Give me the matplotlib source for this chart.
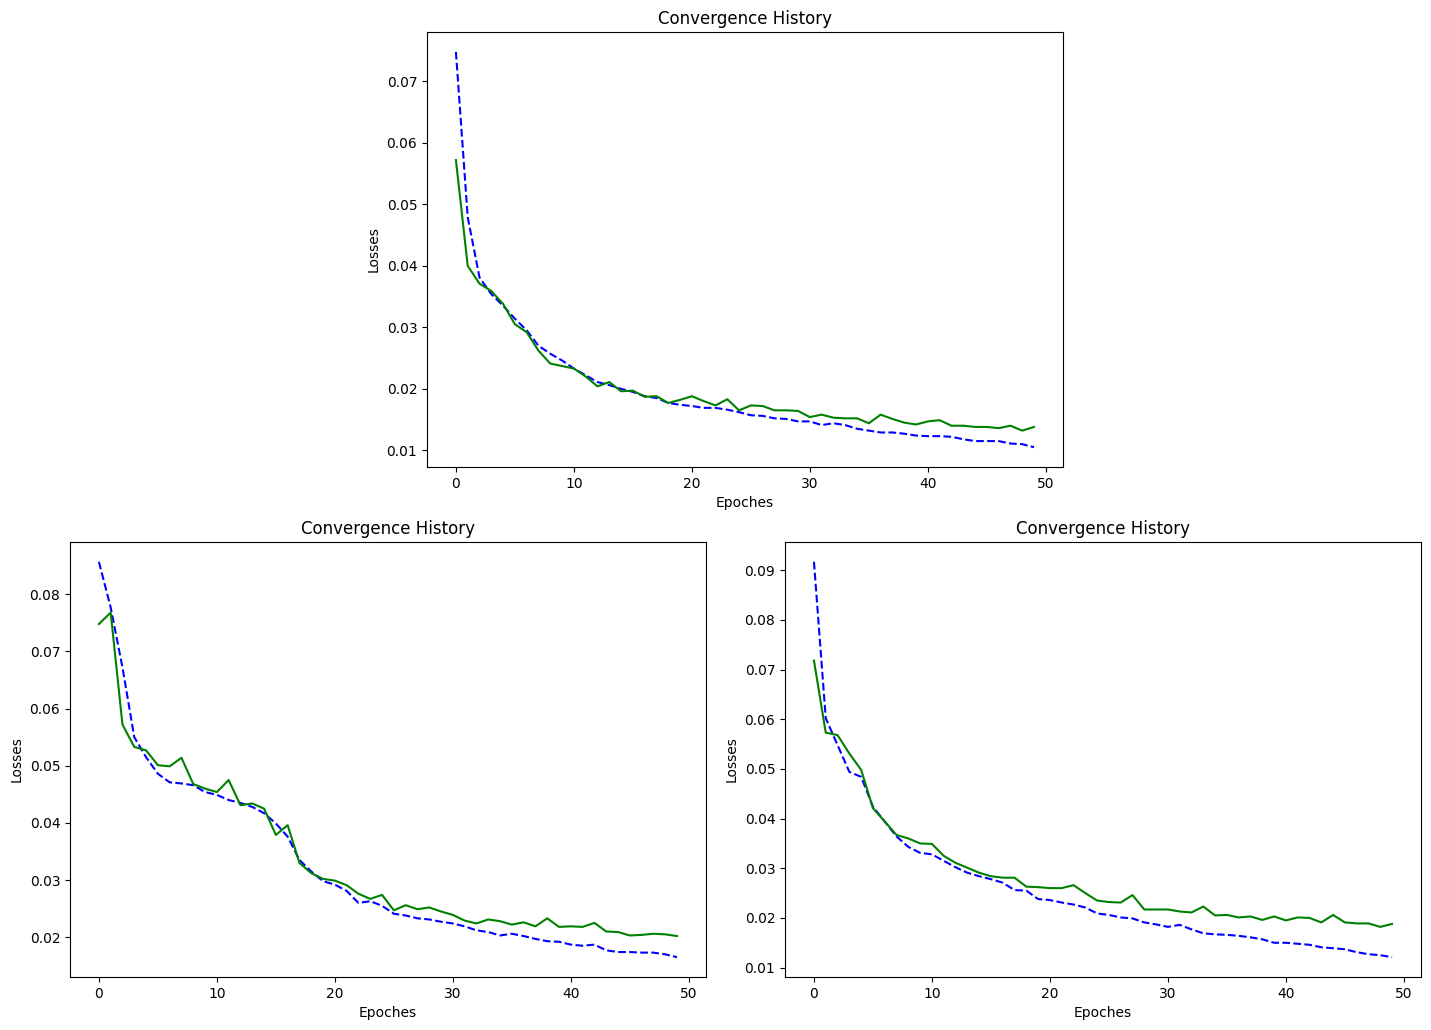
import matplotlib
matplotlib.use("Agg")
import matplotlib.pyplot as plt
import numpy as np

epochs = np.arange(50)

# top plot
train_top = [0.0748, 0.0479, 0.0381, 0.0354, 0.0335, 0.0314, 0.0295, 0.0270, 0.0257, 0.0246,
             0.0233, 0.0222, 0.0211, 0.0206, 0.0200, 0.0195, 0.0188, 0.0185, 0.0177, 0.0174,
             0.0172, 0.0169, 0.0169, 0.0166, 0.0162, 0.0157, 0.0156, 0.0152, 0.0151, 0.0147,
             0.0147, 0.0141, 0.0144, 0.0141, 0.0135, 0.0132, 0.0129, 0.0129, 0.0127, 0.0124,
             0.0123, 0.0123, 0.0122, 0.0118, 0.0115, 0.0115, 0.0115, 0.0111, 0.0110, 0.0105]
val_top = [0.0572, 0.0400, 0.0371, 0.0359, 0.0338, 0.0305, 0.0292, 0.0262, 0.0241, 0.0237,
           0.0233, 0.0220, 0.0204, 0.0211, 0.0196, 0.0197, 0.0187, 0.0188, 0.0177, 0.0182,
           0.0188, 0.0180, 0.0173, 0.0183, 0.0165, 0.0173, 0.0172, 0.0165, 0.0165, 0.0164,
           0.0154, 0.0158, 0.0153, 0.0152, 0.0152, 0.0144, 0.0158, 0.0151, 0.0145, 0.0142,
           0.0147, 0.0149, 0.0140, 0.0140, 0.0138, 0.0138, 0.0136, 0.0140, 0.0132, 0.0138]

# bottom left plot
train_left = [0.0857, 0.0777, 0.0672, 0.0550, 0.0515, 0.0486, 0.0471, 0.0469, 0.0466, 0.0454,
              0.0449, 0.0440, 0.0435, 0.0428, 0.0417, 0.0399, 0.0376, 0.0335, 0.0315, 0.0298,
              0.0292, 0.0281, 0.0260, 0.0263, 0.0255, 0.0241, 0.0238, 0.0233, 0.0231, 0.0227,
              0.0224, 0.0219, 0.0212, 0.0209, 0.0203, 0.0206, 0.0202, 0.0197, 0.0193, 0.0192,
              0.0187, 0.0185, 0.0187, 0.0177, 0.0174, 0.0174, 0.0173, 0.0173, 0.0170, 0.0165]
val_left = [0.0748, 0.0768, 0.0572, 0.0533, 0.0527, 0.0501, 0.0499, 0.0514, 0.0468, 0.0460,
            0.0454, 0.0475, 0.0431, 0.0434, 0.0425, 0.0379, 0.0396, 0.0330, 0.0312, 0.0302,
            0.0299, 0.0291, 0.0276, 0.0267, 0.0274, 0.0247, 0.0256, 0.0249, 0.0252, 0.0245,
            0.0239, 0.0229, 0.0224, 0.0231, 0.0228, 0.0222, 0.0226, 0.0219, 0.0233, 0.0218,
            0.0219, 0.0218, 0.0225, 0.0210, 0.0209, 0.0203, 0.0204, 0.0206, 0.0205, 0.0202]

# bottom right plot
train_right = [0.0917, 0.0602, 0.0548, 0.0494, 0.0484, 0.0424, 0.0394, 0.0364, 0.0343, 0.0331,
               0.0328, 0.0315, 0.0302, 0.0291, 0.0284, 0.0278, 0.0271, 0.0256, 0.0255, 0.0238,
               0.0236, 0.0231, 0.0227, 0.0221, 0.0209, 0.0206, 0.0201, 0.0199, 0.0191, 0.0187,
               0.0182, 0.0186, 0.0177, 0.0169, 0.0167, 0.0166, 0.0164, 0.0161, 0.0157, 0.0150,
               0.0150, 0.0148, 0.0146, 0.0141, 0.0139, 0.0137, 0.0131, 0.0127, 0.0125, 0.0121]
val_right = [0.0718, 0.0573, 0.0568, 0.0531, 0.0498, 0.0421, 0.0394, 0.0367, 0.0360, 0.0350,
             0.0349, 0.0325, 0.0311, 0.0301, 0.0291, 0.0284, 0.0281, 0.0281, 0.0263, 0.0262,
             0.0260, 0.0260, 0.0266, 0.0250, 0.0235, 0.0232, 0.0231, 0.0246, 0.0217, 0.0217,
             0.0217, 0.0213, 0.0211, 0.0223, 0.0205, 0.0206, 0.0201, 0.0203, 0.0196, 0.0203,
             0.0195, 0.0201, 0.0200, 0.0191, 0.0206, 0.0191, 0.0189, 0.0189, 0.0182, 0.0188]

fig = plt.figure(figsize=(14.31, 10.30), dpi=100)

panels = [
    ([0.2984, 0.5466, 0.4444, 0.4223], train_top, val_top),
    ([0.0489, 0.0515, 0.4444, 0.4223], train_left, val_left),
    ([0.5486, 0.0515, 0.4444, 0.4223], train_right, val_right),
]

for rect, tr, va in panels:
    ax = fig.add_axes(rect)
    ax.plot(epochs, tr, 'b--')
    ax.plot(epochs, va, 'g')
    ax.set_title("Convergence History")
    ax.set_xlabel("Epoches")
    ax.set_ylabel("Losses")

plt.savefig("out.png")
